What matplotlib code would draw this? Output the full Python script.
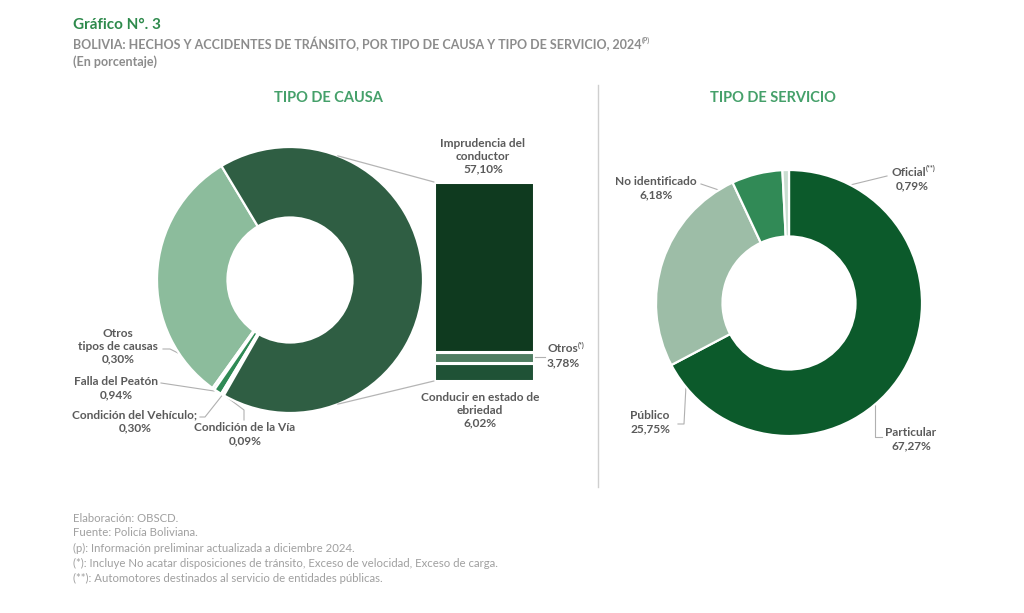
import numpy as np
import matplotlib
matplotlib.use("Agg")
import matplotlib.pyplot as plt
from matplotlib.patches import ConnectionPatch

plt.rcParams['font.family'] = ['Lato', 'DejaVu Sans']

# ----------------------------------------------------
# Data
# ----------------------------------------------------
causa_labels = ["Sin determinar", "Otros tipos de causas", "Falla del Peatón",
                "Condición del Vehículo", "Condición de la Vía", "Falla del conductor"]
causa_values = [31.49, 0.30, 0.94, 0.30, 0.09, 66.89]
causa_colors = ["#8cbc9c", "#b5d4bf", "#2f8a55", "#cfe2d5", "#7fae8f", "#2f5e43"]

# breakdown of "Falla del conductor", stacked bottom -> top
falla_labels = ["Conducir en estado de ebriedad", "Otros", "Imprudencia del conductor"]
falla_values = [6.02, 3.78, 57.10]
falla_colors = ["#1f5236", "#4f7e62", "#0f3a1f"]

servicio_labels = ["Particular", "Público", "No identificado", "Oficial"]
servicio_values = [67.27, 25.75, 6.18, 0.79]
servicio_colors = ["#0c5a2b", "#9dbda7", "#318a56", "#c9ddd0"]

GREEN = "#2e8a4c"
TITLE_GREEN = "#45a06a"
GRAY = "#8c8c8c"
LABEL = "#5a5a5a"
FS = 8.6

W, H = 1024, 613
fig = plt.figure(figsize=(W / 100, H / 100), dpi=100)


def px_axes(cx, cy, half):
    # square axes centred on a pixel position
    return fig.add_axes([(cx - half) / W, 1 - (cy + half) / H, 2 * half / W, 2 * half / H])


# ----------------------------------------------------
# Left donut: tipo de causa
# ----------------------------------------------------
R = 133
ax_l = px_axes(290, 280, 145)
ax_l.pie(causa_values, colors=causa_colors, startangle=121, counterclock=True,
         radius=1.0, wedgeprops=dict(width=0.53, edgecolor="white", linewidth=1.6))
lim = 145 / R
ax_l.set_xlim(-lim, lim)
ax_l.set_ylim(-lim, lim)
ax_l.set_aspect("equal")
ax_l.axis("off")

# ----------------------------------------------------
# Stacked bar: breakdown of Falla del conductor
# ----------------------------------------------------
ax_b = fig.add_axes([434 / W, 1 - 381 / H, 100 / W, (381 - 182) / H])
bottom = 0.0
for v, c in zip(falla_values, falla_colors):
    ax_b.bar(0, v, bottom=bottom, width=1.0, color=c, edgecolor="white", linewidth=2.2)
    bottom += v
ax_b.set_xlim(-0.5, 0.5)
ax_b.set_ylim(0, sum(falla_values))
ax_b.axis("off")

# connector lines donut -> bar
for ang, ybar in [(69, sum(falla_values)), (-69, 0)]:
    a = np.deg2rad(ang)
    con = ConnectionPatch(xyA=(np.cos(a), np.sin(a)), coordsA=ax_l.transData,
                          xyB=(-0.5, ybar), coordsB=ax_b.transData,
                          color="#b5b5b5", linewidth=0.9)
    fig.add_artist(con)

# ----------------------------------------------------
# Right donut: tipo de servicio
# ----------------------------------------------------
ax_r = px_axes(789, 303, 145)
ax_r.pie(servicio_values, colors=servicio_colors, startangle=90, counterclock=False,
         radius=1.0, wedgeprops=dict(width=0.50, edgecolor="white", linewidth=1.6))
ax_r.set_xlim(-lim, lim)
ax_r.set_ylim(-lim, lim)
ax_r.set_aspect("equal")
ax_r.axis("off")

# ----------------------------------------------------
# Overlay for text and leader lines (pixel coordinates)
# ----------------------------------------------------
ov = fig.add_axes([0, 0, 1, 1], zorder=-1)
ov.set_xlim(0, W)
ov.set_ylim(H, 0)
ov.axis("off")
ov.patch.set_alpha(0)
renderer = fig.canvas.get_renderer()


def sup(txt, s, color, dy=-4):
    # small superscript glued right after a text object
    bb = txt.get_window_extent(renderer)
    x_end = bb.x1
    x_px = x_end
    y_px = H - (bb.y0 + bb.y1) / 2 + dy
    ov.text(x_px + 0.5, y_px, s, color=color, fontsize=5, fontweight="bold",
            ha="left", va="center")


ov.text(73, 25, "Gráfico N°. 3", color=GREEN, fontsize=11, fontweight="bold", va="center")
sub = ov.text(73, 44, "BOLIVIA: HECHOS Y ACCIDENTES DE TRÁNSITO, POR TIPO DE CAUSA Y TIPO DE SERVICIO, 2024",
              color=GRAY, fontsize=9, fontweight="bold", va="center")
sup(sub, "(P)", GRAY)
ov.text(73, 62, "(En porcentaje)", color=GRAY, fontsize=9, fontweight="bold", va="center")

ov.text(328, 98, "TIPO DE CAUSA", color=TITLE_GREEN, fontsize=10.5, fontweight="bold",
        ha="center", va="center")
ov.text(773, 98, "TIPO DE SERVICIO", color=TITLE_GREEN, fontsize=10.5, fontweight="bold",
        ha="center", va="center")

ov.plot([598, 598], [85, 487], color="#cfcfcf", linewidth=1)

lab = dict(color=LABEL, fontsize=FS, fontweight="bold", ha="center", va="center",
           linespacing=1.2)
line = dict(color="#b0b0b0", linewidth=0.8)

# inner labels
ov.text(383, 258, "Falla del\nconductor\n66,89%", color="white", fontsize=FS,
        fontweight="bold", ha="center", va="center", linespacing=1.2)
ov.text(187, 269, "Sin\ndeterminar\n31,49%", color="#f4f1dc", fontsize=FS,
        fontweight="bold", ha="center", va="center", linespacing=1.2)

# small slices
ov.text(118, 346, "Otros\ntipos de causas\n0,30%", **lab)
ov.plot([163, 170, 178], [349, 349, 353], **line)
ov.text(116, 388, "Falla del Peatón\n0,94%", **lab)
ov.plot([161, 214], [383, 391], **line)
ov.text(135, 421, "Condición del Vehículo;\n0,30%", **lab)
ov.plot([200, 205, 224], [417, 417, 393], **line)
ov.text(245, 434, "Condición de la Vía\n0,09%", **lab)
ov.plot([244, 244, 224], [420, 410, 395], **line)

# bar labels
ov.text(483, 156, "Imprudencia del\nconductor\n57,10%", **lab)
otros = ov.text(547, 349, "Otros", color=LABEL, fontsize=FS, fontweight="bold",
                ha="left", va="center")
sup(otros, "(*)", LABEL)
ov.text(547, 363, "3,78%", color=LABEL, fontsize=FS, fontweight="bold",
        ha="left", va="center")
ov.plot([535, 545], [357, 357], **line)
ov.text(480, 410, "Conducir en estado de\nebriedad\n6,02%", **lab)

# right donut labels
ov.text(656, 188, "No identificado\n6,18%", **lab)
ov.plot([701, 763], [184, 205], **line)
ofi = ov.text(891, 172, "Oficial", color=LABEL, fontsize=FS, fontweight="bold",
              ha="left", va="center")
sup(ofi, "(**)", LABEL)
ov.text(912, 186, "0,79%", color=LABEL, fontsize=FS, fontweight="bold",
        ha="center", va="center")
ov.plot([887, 789], [176, 200], **line)
ov.text(650, 422, "Público\n25,75%", **lab)
ov.plot([678, 684, 692], [424, 424, 270], **line)
ov.text(911, 439, "Particular\n67,27%", **lab)
ov.plot([882, 875, 875], [437, 437, 353], **line)

# footer
notes = ["Elaboración: OBSCD.",
         "Fuente: Policía Boliviana.",
         "(p): Información preliminar actualizada a diciembre 2024.",
         "(*): Incluye No acatar disposiciones de tránsito, Exceso de velocidad, Exceso de carga.",
         "(**): Automotores destinados al servicio de entidades públicas."]
for i, t in enumerate(notes):
    ov.text(73, 518 + i * 15, t, color="#a0a0a0", fontsize=8.2, va="center")

fig.savefig("out.png", dpi=100, facecolor="white")
